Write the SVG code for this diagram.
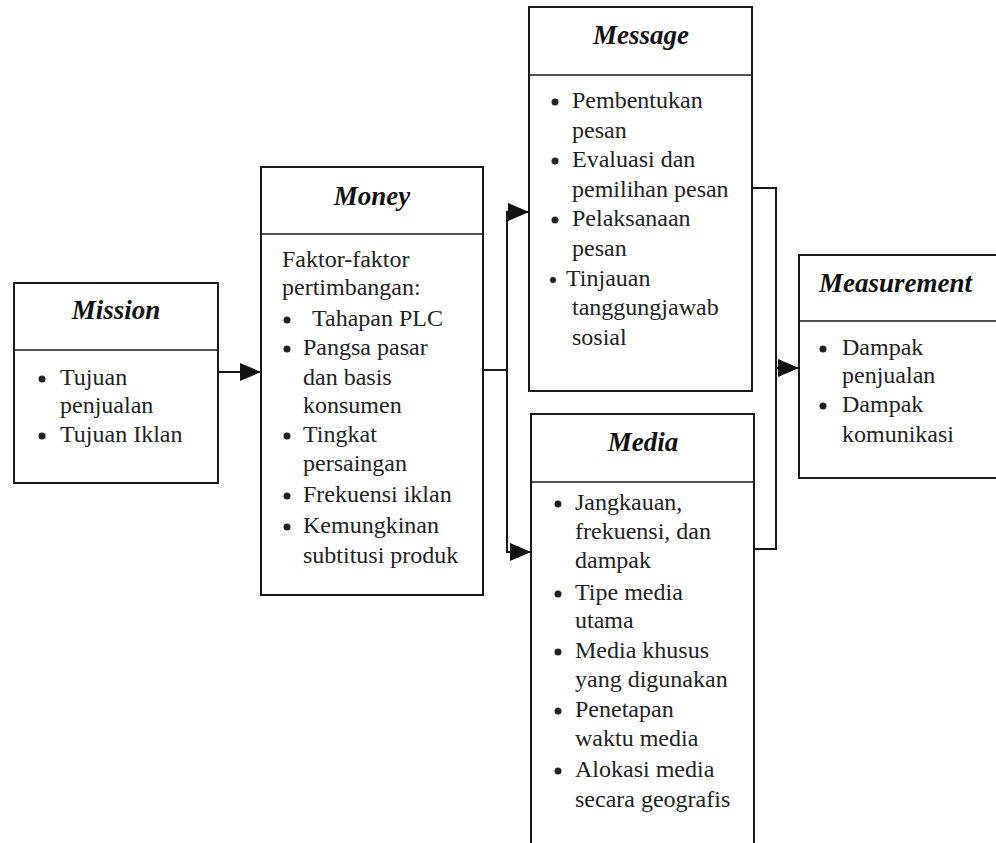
<svg xmlns="http://www.w3.org/2000/svg" width="996" height="843" viewBox="0 0 996 843">
<style>
.box{fill:none;stroke:#1a1a1a;stroke-width:2}
.div{stroke:#1a1a1a;stroke-width:1.6}
.title{font-family:"Liberation Serif","Times New Roman",serif;font-size:27px;font-weight:bold;font-style:italic;fill:#111}
.t{font-family:"Liberation Serif","Times New Roman",serif;font-size:24px;fill:#222}
.b{fill:#222}
.con{fill:none;stroke:#1a1a1a;stroke-width:2}
</style>
<defs>
<marker id="arr" markerUnits="userSpaceOnUse" markerWidth="22" markerHeight="20" refX="21" refY="9" orient="auto">
<path d="M0,0 L21,9 L0,18 Z" fill="#111"/>
</marker>
</defs>
<rect width="996" height="843" fill="#ffffff"/>

<g id="connectors">
<line class="con" x1="218" y1="372" x2="261" y2="372" marker-end="url(#arr)"/>
<polyline class="con" points="483,370 507,370"/>
<line class="con" x1="507" y1="212" x2="507" y2="552"/>
<line class="con" x1="506" y1="212" x2="529" y2="212" marker-end="url(#arr)"/>
<line class="con" x1="506" y1="552" x2="531" y2="552" marker-end="url(#arr)"/>
<polyline class="con" points="752,188 776,188 776,549 754,549"/>
<line class="con" x1="776" y1="368" x2="799" y2="368" marker-end="url(#arr)"/>
</g>

<g id="mission">
<rect class="box" x="14" y="283" width="204" height="200"/>
<line class="div" x1="14" y1="350" x2="218" y2="350"/>
<text class="title" x="116" y="319" text-anchor="middle">Mission</text>
<circle class="b" cx="42" cy="379" r="3.5"/>
<text class="t" x="60" y="385">Tujuan</text>
<text class="t" x="60" y="413">penjualan</text>
<circle class="b" cx="42" cy="436" r="3.5"/>
<text class="t" x="60" y="442">Tujuan Iklan</text>
</g>

<g id="money">
<rect class="box" x="261" y="167" width="222" height="428"/>
<line class="div" x1="261" y1="234" x2="483" y2="234"/>
<text class="title" x="372" y="205" text-anchor="middle">Money</text>
<text class="t" x="282" y="267">Faktor-faktor</text>
<text class="t" x="282" y="295">pertimbangan:</text>
<circle class="b" cx="287" cy="320" r="3.5"/>
<text class="t" x="312" y="326">Tahapan PLC</text>
<circle class="b" cx="287" cy="349" r="3.5"/>
<text class="t" x="303" y="355">Pangsa pasar</text>
<text class="t" x="303" y="385">dan basis</text>
<text class="t" x="303" y="413">konsumen</text>
<circle class="b" cx="287" cy="436" r="3.5"/>
<text class="t" x="303" y="442">Tingkat</text>
<text class="t" x="303" y="471">persaingan</text>
<circle class="b" cx="287" cy="496" r="3.5"/>
<text class="t" x="303" y="502">Frekuensi iklan</text>
<circle class="b" cx="287" cy="527" r="3.5"/>
<text class="t" x="303" y="533">Kemungkinan</text>
<text class="t" x="303" y="563">subtitusi produk</text>
</g>

<g id="message">
<rect class="box" x="529" y="7" width="223" height="384"/>
<line class="div" x1="529" y1="75" x2="752" y2="75"/>
<text class="title" x="641" y="44" text-anchor="middle">Message</text>
<circle class="b" cx="555" cy="102" r="3.5"/>
<text class="t" x="572" y="108">Pembentukan</text>
<text class="t" x="572" y="138">pesan</text>
<circle class="b" cx="555" cy="161" r="3.5"/>
<text class="t" x="572" y="167">Evaluasi dan</text>
<text class="t" x="572" y="197">pemilihan pesan</text>
<circle class="b" cx="555" cy="220" r="3.5"/>
<text class="t" x="572" y="226">Pelaksanaan</text>
<text class="t" x="572" y="256">pesan</text>
<circle class="b" cx="553" cy="280" r="3"/>
<text class="t" x="566" y="286">Tinjauan</text>
<text class="t" x="572" y="315">tanggungjawab</text>
<text class="t" x="572" y="345">sosial</text>
</g>

<g id="media">
<path class="box" d="M531,850 L531,414 L754,414 L754,850"/>
<line class="div" x1="531" y1="482" x2="754" y2="482"/>
<text class="title" x="643" y="451" text-anchor="middle">Media</text>
<circle class="b" cx="558" cy="504" r="3.5"/>
<text class="t" x="575" y="510">Jangkauan,</text>
<text class="t" x="575" y="539">frekuensi, dan</text>
<text class="t" x="575" y="568">dampak</text>
<circle class="b" cx="558" cy="594" r="3.5"/>
<text class="t" x="575" y="600">Tipe media</text>
<text class="t" x="575" y="628">utama</text>
<circle class="b" cx="558" cy="652" r="3.5"/>
<text class="t" x="575" y="658">Media khusus</text>
<text class="t" x="575" y="687">yang digunakan</text>
<circle class="b" cx="558" cy="711" r="3.5"/>
<text class="t" x="575" y="717">Penetapan</text>
<text class="t" x="575" y="746">waktu media</text>
<circle class="b" cx="558" cy="771" r="3.5"/>
<text class="t" x="575" y="777">Alokasi  media</text>
<text class="t" x="575" y="807">secara geografis</text>
</g>

<g id="measurement">
<path class="box" d="M1000,255 L799,255 L799,478 L1000,478"/>
<line class="div" x1="799" y1="321" x2="1000" y2="321"/>
<text class="title" x="819" y="292">Measurement</text>
<circle class="b" cx="823" cy="349" r="3.5"/>
<text class="t" x="842" y="355">Dampak</text>
<text class="t" x="842" y="383">penjualan</text>
<circle class="b" cx="823" cy="406" r="3.5"/>
<text class="t" x="842" y="412">Dampak</text>
<text class="t" x="842" y="442">komunikasi</text>
</g>
</svg>
